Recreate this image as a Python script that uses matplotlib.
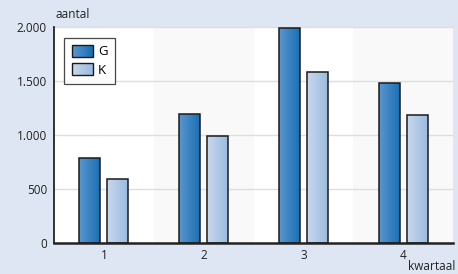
import numpy as np
import matplotlib
matplotlib.use("Agg")
import matplotlib.pyplot as plt
from matplotlib.patches import Rectangle
from matplotlib.legend_handler import HandlerBase
from matplotlib.colors import LinearSegmentedColormap

categories = ["1", "2", "3", "4"]
series_names = ["G", "K"]
values_G = [790, 1190, 1990, 1485]
values_K = [590, 990, 1585, 1185]
yticks = [0, 500, 1000, 1500, 2000]
ytick_labels = ["0", "500", "1.000", "1.500", "2.000"]

plt.rcParams['font.family'] = ['Open Sans', 'DejaVu Sans']

bg = "#dde6f2"
cmap_G = LinearSegmentedColormap.from_list("g", ["#5b97cf", "#1b6fb3"])
cmap_K = LinearSegmentedColormap.from_list("k", ["#c8d8ee", "#9bbbe0"])

fig = plt.figure(figsize=(4.58, 2.74), dpi=100, facecolor=bg)
ax = fig.add_axes([54/458, (274-243)/274, (453-54)/458, (243-27)/274])
ax.set_facecolor("white")

x = np.arange(1, len(categories) + 1)
ax.set_xlim(0.5, 4.5)
ax.set_ylim(0, 2000)

# alternating bands
for i, xi in enumerate(x):
    if i % 2 == 1:
        ax.axvspan(xi - 0.5, xi + 0.5, color="#f9f9f9", zorder=0, lw=0)

for yv in yticks[1:]:
    ax.axhline(yv, color="#dedede", lw=1, zorder=1, clip_on=False)

width = 0.21
offset = 0.14
grad = np.linspace(0, 1, 64).reshape(1, -1)

def grad_bars(xs, vals, cmap):
    bars = ax.bar(xs, vals, width, facecolor="none", edgecolor="#1a1a1a", lw=1.1, zorder=4)
    for b in bars:
        x0, y0 = b.get_x(), b.get_y()
        w, h = b.get_width(), b.get_height()
        im = ax.imshow(grad, cmap=cmap, extent=(x0, x0 + w, y0, y0 + h),
                       aspect="auto", zorder=3, interpolation="bilinear")
        im.set_clip_path(b)
    return bars

bG = grad_bars(x - offset, values_G, cmap_G)
bK = grad_bars(x + offset, values_K, cmap_K)
ax.set_xlim(0.5, 4.5)
ax.set_ylim(0, 2000)

class GradHandler(HandlerBase):
    def __init__(self, cmap):
        super().__init__()
        self.cmap = cmap
    def create_artists(self, legend, orig_handle, xdescent, ydescent, width, height, fontsize, trans):
        arts = []
        n = 12
        for i in range(n):
            r = Rectangle((-xdescent + width * i / n, -ydescent), width / n + 0.3, height,
                          facecolor=self.cmap(i / (n - 1)), edgecolor="none", transform=trans)
            arts.append(r)
        arts.append(Rectangle((-xdescent, -ydescent), width, height, facecolor="none",
                              edgecolor="#1a1a1a", lw=1.0, transform=trans))
        return arts

hG = Rectangle((0, 0), 1, 1)
hK = Rectangle((0, 0), 1, 1)
leg = ax.legend([hG, hK], series_names, handler_map={hG: GradHandler(cmap_G), hK: GradHandler(cmap_K)},
                loc="upper left", bbox_to_anchor=(0.026, 0.95), fontsize=9.5, frameon=True,
                fancybox=False, handlelength=1.6, handleheight=1.0, handletextpad=0.4,
                borderpad=0.55, labelspacing=0.38, borderaxespad=0)
leg.get_frame().set_edgecolor("#1a1a1a")
leg.get_frame().set_linewidth(0.9)
leg.set_zorder(10)

ax.set_xticks(x)
ax.set_xticklabels(categories)
ax.set_yticks(yticks)
ax.set_yticklabels(ytick_labels)
ax.tick_params(axis="both", length=0, labelsize=8.5, colors="#222222", pad=4)
ax.tick_params(axis="y", pad=5)

for s in ["top", "right"]:
    ax.spines[s].set_visible(False)
ax.spines["left"].set_color("#111111")
ax.spines["left"].set_linewidth(1.2)
ax.spines["bottom"].set_color("#222222")
ax.spines["bottom"].set_linewidth(1.8)
ax.spines["left"].set_zorder(6)
ax.spines["bottom"].set_zorder(6)

fig.text(55/458, 1 - 18/274, "aantal", fontsize=8.5, color="#222222", ha="left", va="baseline")
fig.text(455/458, 1 - 270/274, "kwartaal", fontsize=8.5, color="#222222", ha="right", va="baseline")

fig.savefig("out.png", dpi=100, facecolor=bg)
